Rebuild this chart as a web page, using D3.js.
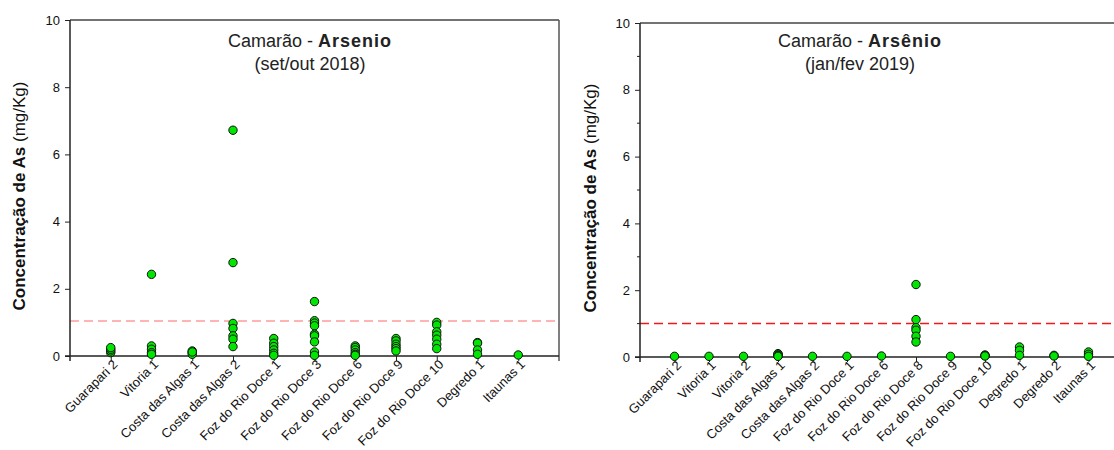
<!DOCTYPE html>
<html>
<head>
<meta charset="utf-8">
<script src="https://cdn.jsdelivr.net/npm/d3@7"></script>
<style>
  body { margin: 0; background: #fff; }
  svg { font-family: "Liberation Sans", Arial, sans-serif; }
  .axis path, .axis line { stroke: #222; }
  .axis text { fill: #111; font-size: 13px; }
</style>
</head>
<body>
<div id="vis-container"></div>
<script>
// set/out 2018
let cats_2018 = ["Guarapari 2", "Vitoria 1", "Costa das Algas 1", "Costa das Algas 2", "Foz do Rio Doce 1",
  "Foz do Rio Doce 3", "Foz do Rio Doce 6", "Foz do Rio Doce 9", "Foz do Rio Doce 10", "Degredo 1", "Itaunas 1"];
let vals_2018 = [
  [0.1, 0.15, 0.2, 0.25],
  [2.43, 0.3, 0.2, 0.1, 0.05],
  [0.15, 0.1, 0.05, 0.12],
  [6.72, 2.78, 0.97, 0.82, 0.6, 0.5, 0.28],
  [0.52, 0.38, 0.28, 0.18, 0.08, 0.02],
  [1.62, 1.05, 0.98, 0.9, 0.65, 0.6, 0.42, 0.12, 0.02],
  [0.3, 0.25, 0.18, 0.1, 0.05, 0.02],
  [0.52, 0.45, 0.35, 0.28, 0.22, 0.15],
  [1.0, 0.92, 0.72, 0.62, 0.5, 0.35, 0.22],
  [0.4, 0.38, 0.18, 0.05],
  [0.03]
];
let limit_2018 = 1.04;

// jan/fev 2019
let cats_2019 = ["Guarapari 2", "Vitoria 1", "Vitoria 2", "Costa das Algas 1", "Costa das Algas 2", "Foz do Rio Doce 1",
  "Foz do Rio Doce 6", "Foz do Rio Doce 8", "Foz do Rio Doce 9", "Foz do Rio Doce 10", "Degredo 1", "Degredo 2", "Itaunas 1"];
let vals_2019 = [
  [0.02],
  [0.02],
  [0.02],
  [0.1, 0.08, 0.05, 0.03, 0.02],
  [0.02],
  [0.02],
  [0.03],
  [2.17, 1.12, 0.88, 0.8, 0.62, 0.45],
  [0.02],
  [0.06, 0.04, 0.03],
  [0.3, 0.2, 0.05],
  [0.05, 0.03],
  [0.15, 0.08, 0.02]
];
let limit_2019 = 1.0;

let y_ticks = [0, 2, 4, 6, 8, 10];
let y_minor = [1, 3, 5, 7, 9];

let svg = d3.select("#vis-container").append("svg")
  .attr("width", 1114)
  .attr("height", 450);

function panel(cfg) {
  let g = svg.append("g");
  let x = d3.scalePoint().domain(cfg.cats).range([cfg.left, cfg.right]).padding(1);
  let y = d3.scaleLinear().domain([0, 10]).range([cfg.bottom, cfg.top]);

  // frame (top and right)
  g.append("line")
    .attr("x1", cfg.left).attr("x2", cfg.right)
    .attr("y1", cfg.top).attr("y2", cfg.top)
    .attr("stroke", "#444").attr("stroke-width", 1.5);
  g.append("line")
    .attr("x1", cfg.right).attr("x2", cfg.right)
    .attr("y1", cfg.top).attr("y2", cfg.bottom + 5)
    .attr("stroke", "#555").attr("stroke-width", 1.5);

  // limit line
  g.append("line")
    .attr("x1", cfg.left).attr("x2", cfg.right)
    .attr("y1", y(cfg.limit)).attr("y2", y(cfg.limit))
    .attr("stroke", cfg.limitColor).attr("stroke-width", 1.5)
    .attr("stroke-dasharray", "9,5");

  // y axis
  let ya = g.append("g").attr("class", "axis")
    .attr("transform", `translate(${cfg.left},0)`)
    .call(d3.axisLeft(y).tickValues(y_ticks).tickSize(5).tickPadding(5).tickSizeOuter(0));
  ya.select(".domain").attr("d", `M0,${cfg.top}V${cfg.bottom + 5}`).attr("stroke-width", 1.5);
  if (cfg.minor) {
    ya.selectAll(".minor").data(y_minor).enter().append("line")
      .attr("class", "minor")
      .attr("x1", -3).attr("x2", 0)
      .attr("y1", d => y(d)).attr("y2", d => y(d))
      .attr("stroke", "#222");
  }

  // x axis
  let xa = g.append("g").attr("class", "axis")
    .attr("transform", `translate(0,${cfg.bottom})`)
    .call(d3.axisBottom(x).tickSize(5).tickSizeOuter(0));
  xa.select(".domain").attr("d", `M${cfg.left - 5},0H${cfg.right}`).attr("stroke-width", 1.5);
  xa.selectAll("text")
    .attr("text-anchor", "end")
    .attr("font-size", "13.5px")
    .attr("dy", "0.35em")
    .attr("transform", "translate(4,6) rotate(-45)")
    .attr("x", 0).attr("y", 0);

  // points
  let pts = [];
  cfg.cats.forEach((c, i) => cfg.vals[i].forEach(v => pts.push({ c: c, v: v })));
  g.selectAll("circle").data(pts).enter().append("circle")
    .attr("cx", d => x(d.c))
    .attr("cy", d => y(d.v))
    .attr("r", 4.2)
    .attr("fill", "#00e600")
    .attr("stroke", "#111")
    .attr("stroke-width", 1);

  // title
  let t = g.append("text")
    .attr("x", cfg.titleX).attr("y", 47)
    .attr("text-anchor", "middle")
    .attr("font-size", "18px").attr("fill", "#222");
  t.append("tspan").text("Camarão - ");
  t.append("tspan").attr("font-weight", "bold").attr("letter-spacing", "1px").text(cfg.element);
  g.append("text")
    .attr("x", cfg.titleX).attr("y", 70)
    .attr("text-anchor", "middle")
    .attr("font-size", "18px").attr("fill", "#222")
    .text(cfg.period);

  // y label
  let yl = g.append("text")
    .attr("transform", `translate(${cfg.labelX},${(cfg.top + cfg.bottom) / 2 + 8}) rotate(-90)`)
    .attr("text-anchor", "middle")
    .attr("font-size", "17px").attr("fill", "#111");
  yl.append("tspan").attr("font-weight", "bold").text("Concentração de As");
  yl.append("tspan").text(" (mg/Kg)");
}

panel({
  cats: cats_2018, vals: vals_2018, limit: limit_2018, limitColor: "#ff9c9c",
  left: 70, right: 559, top: 20, bottom: 356, minor: false,
  titleX: 310, labelX: 25, element: "Arsenio", period: "(set/out 2018)"
});
panel({
  cats: cats_2019, vals: vals_2019, limit: limit_2019, limitColor: "#f01818",
  left: 640, right: 1123, top: 23, bottom: 357, minor: true,
  titleX: 860, labelX: 596, element: "Arsênio", period: "(jan/fev 2019)"
});
</script>
</body>
</html>
